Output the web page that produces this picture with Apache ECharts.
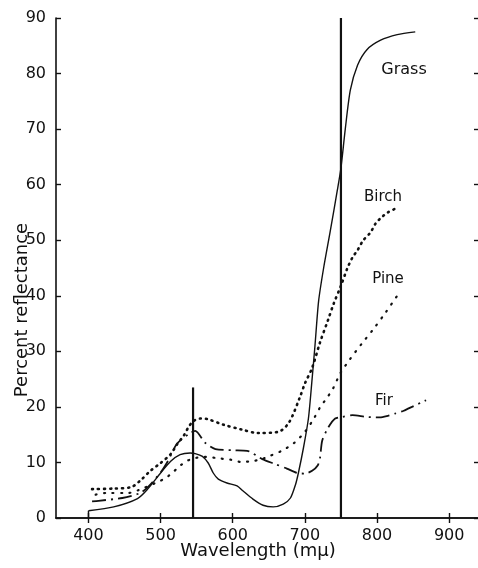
<!DOCTYPE html>
<html>
<head>
<meta charset="utf-8">
<script src="https://cdn.jsdelivr.net/npm/echarts@6/dist/echarts.min.js"></script>
<style>
  html, body { margin: 0; padding: 0; background: #fff; }
  #chart { width: 478px; height: 568px; }
</style>
</head>
<body>
<div id="chart"></div>
<script>
// ---- data (wavelength in mμ, percent reflectance) ----
const xTicks = [400, 500, 600, 700, 800, 900];
const yTicks = [0, 10, 20, 30, 40, 50, 60, 70, 80, 90];

const grassStub = [[400, 0], [400, 1.3]];
const grass = [[400,1.3],[435,2.0],[468,3.5],[482,5.2],[500,8.1],[514,10.2],[527,11.4],[541,11.7],[548,11.6],[558,11.1],[566,9.9],[573,8.1],[580,7.0],[592,6.3],[606,5.8],[614,4.9],[628,3.4],[642,2.3],[656,2.0],[670,2.5],[680,3.6],[687,6.0],[691,8.1],[698,12.6],[705,18],[710,25],[714,31],[719,39],[726,45],[735,51.5],[745,59],[750,63],[756,70],[763,77],[773,81.5],[786,84.3],[805,86],[828,87],[853,87.5]];
const birch = [[405,5.2],[435,5.3],[460,5.6],[474,7.0],[486,8.5],[500,9.9],[514,11.5],[523,13.3],[532,14.8],[538,16.2],[545,17.4],[555,17.9],[565,17.8],[587,16.8],[613,15.9],[635,15.3],[663,15.5],[678,17.2],[693,21.7],[700,24.2],[710,27],[721,31.6],[732,35.6],[740,38.6],[750,41.8],[759,45],[766,46.9],[773,48.2],[781,50],[791,51.4],[798,53],[807,54.2],[815,55],[824,55.6]];
const pine = [[410,4.2],[424,4.5],[455,4.5],[469,5.0],[493,6.3],[507,7.2],[516,8.1],[527,9.4],[537,10.3],[548,10.8],[562,11.0],[583,10.7],[597,10.5],[611,10.1],[624,10.2],[638,10.5],[650,11.1],[668,12.1],[685,13.5],[700,15.5],[712,17.8],[721,19.9],[731,21.7],[739,23.3],[749,26],[762,28.5],[779,31.4],[795,34],[812,37],[828,40]];
const fir = [[405,3.0],[414,3.1],[447,3.6],[470,4.4],[482,5.5],[500,8.2],[509,10],[523,13.4],[541,15.3],[548,15.7],[562,13.5],[576,12.4],[600,12.2],[620,12.1],[641,10.6],[659,9.7],[675,8.9],[689,8.1],[700,8.0],[710,8.5],[718,9.5],[721,10.8],[724,13.9],[732,16.2],[742,17.9],[752,18.2],[766,18.5],[785,18.2],[804,18.1],[815,18.4],[825,18.8],[837,19.3],[850,20.1],[868,21.2]];
const marker1 = [[545, 0], [545, 23.5]];
const marker2 = [[750, 0], [750, 90]];

const labels = ['Grass', 'Birch', 'Pine', 'Fir'];
const xName = 'Wavelength (mμ)';
const yName = 'Percent reflectance';

// ---- chart ----
const ink = '#111';
const font = 'DejaVu Sans';
const chart = echarts.init(document.getElementById('chart'), null, { renderer: 'canvas' });

function axisCommon(extra) {
  return Object.assign({
    axisLine: { show: true, lineStyle: { color: ink, width: 1.6 } },
    splitLine: { show: false }
  }, extra);
}

chart.setOption({
  backgroundColor: '#fff',
  animation: false,
  grid: { left: 56, right: 0, top: 18, bottom: 50 },
  xAxis: [
    axisCommon({
      type: 'value', min: 355, max: 940, position: 'bottom',
      axisTick: { show: true, inside: true, length: 5, customValues: xTicks, lineStyle: { color: ink, width: 1.4 } },
      axisLabel: { show: true, customValues: xTicks, margin: 10, color: ink, fontSize: 16, fontFamily: font }
    }),
    axisCommon({
      type: 'value', min: 355, max: 940, position: 'top',
      axisTick: { show: true, inside: true, length: 5, customValues: xTicks, lineStyle: { color: ink, width: 1.4 } },
      axisLabel: { show: false }
    })
  ],
  yAxis: [
    axisCommon({
      type: 'value', min: 0, max: 90, interval: 10, position: 'left',
      axisTick: { show: true, inside: true, length: 5, lineStyle: { color: ink, width: 1.4 } },
      axisLabel: { show: true, margin: 10, color: ink, fontSize: 16, fontFamily: font }
    }),
    {
      type: 'value', min: 0, max: 90, interval: 10, position: 'right',
      axisLine: { show: false },
      axisTick: { show: true, inside: true, length: 4, lineStyle: { color: ink, width: 1.4 } },
      axisLabel: { show: false },
      splitLine: { show: false }
    }
  ],
  series: [
    { type: 'line', data: grassStub, symbol: 'none', lineStyle: { color: ink, width: 1.4 } },
    { type: 'line', data: grass, symbol: 'none', smooth: 0.25, lineStyle: { color: ink, width: 1.4 } },
    { type: 'line', data: birch, symbol: 'none', smooth: 0.3, lineStyle: { color: ink, width: 2.6, type: [1, 5], cap: 'round' } },
    { type: 'line', data: pine, symbol: 'none', smooth: 0.3, lineStyle: { color: ink, width: 2.2, type: [1, 7.5], cap: 'round' } },
    { type: 'line', data: fir, symbol: 'none', smooth: 0.25, lineStyle: { color: ink, width: 1.8, type: [14, 5, 2, 5] } },
    { type: 'line', data: marker1, symbol: 'none', lineStyle: { color: ink, width: 2.2 } },
    { type: 'line', data: marker2, symbol: 'none', lineStyle: { color: ink, width: 2.2 } }
  ],
  graphic: [
    { type: 'text', x: 404, y: 70, style: { text: labels[0], fontSize: 16, fontFamily: font, fill: ink, align: 'center', verticalAlign: 'middle' } },
    { type: 'text', x: 383, y: 197, style: { text: labels[1], fontSize: 15, fontFamily: font, fill: ink, align: 'center', verticalAlign: 'middle' } },
    { type: 'text', x: 388, y: 279, style: { text: labels[2], fontSize: 15, fontFamily: font, fill: ink, align: 'center', verticalAlign: 'middle' } },
    { type: 'text', x: 384, y: 401, style: { text: labels[3], fontSize: 15, fontFamily: font, fill: ink, align: 'center', verticalAlign: 'middle' } },
    { type: 'text', x: 258, y: 551, style: { text: xName, fontSize: 18, fontFamily: font, fill: ink, align: 'center', verticalAlign: 'middle' } },
    { type: 'text', x: 22, y: 310, rotation: Math.PI / 2, style: { text: yName, fontSize: 18, fontFamily: font, fill: ink, align: 'center', verticalAlign: 'middle' } }
  ]
});
</script>
</body>
</html>
